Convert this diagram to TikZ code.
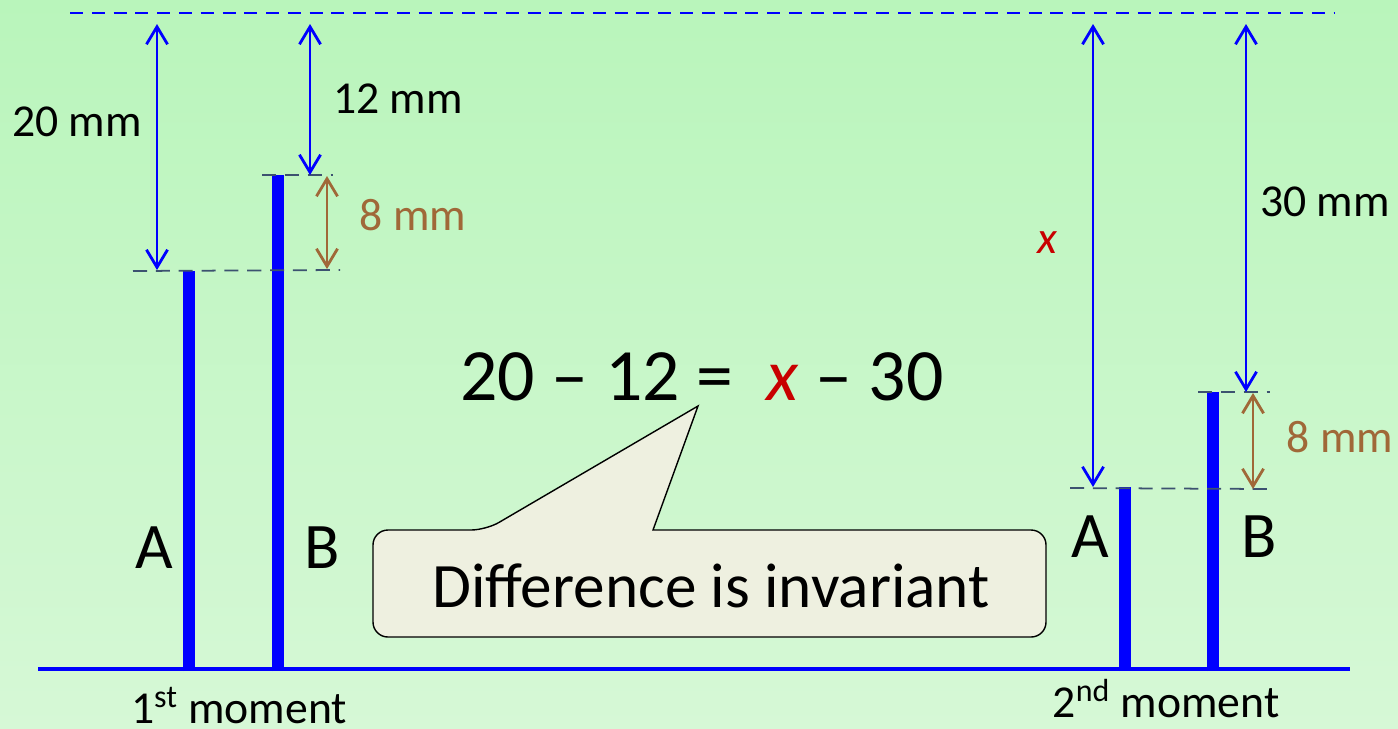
\documentclass[tikz,border=0pt]{standalone}
\usepackage{fontspec}
\setmainfont{Carlito}
\usetikzlibrary{arrows.meta,positioning}

\definecolor{bgtop}{RGB}{185,245,187}
\definecolor{bgbottom}{RGB}{214,248,214}
\definecolor{gapbrown}{RGB}{160,104,56}
\definecolor{guidegray}{RGB}{60,82,112}
\definecolor{xred}{RGB}{200,0,0}
\definecolor{callfill}{RGB}{238,240,224}

\tikzset{
	topline/.style={draw=blue,line width=1.1pt,dash pattern=on 7.4pt off 5pt},
	groundline/.style={draw=blue,line width=1.8pt},
	bar/.style={draw=blue,line width=6.8pt},
	guide/.style={draw=guidegray,line width=1pt,dash pattern=on 8pt off 5pt},
	dimarrow/.style={draw=blue,line width=1.6pt,
		{Straight Barb[length=10pt,width=12pt]}-{Straight Barb[length=10pt,width=12pt]}},
	gaparrow/.style={dimarrow,draw=gapbrown},
	lbl/.style={inner sep=0pt,font=\fontsize{26}{30}\selectfont},
	barname/.style={inner sep=0pt,font=\fontsize{37}{42}\selectfont},
	callbox/.style={draw=black,line width=0.8pt,fill=callfill}
}

\begin{document}
\begin{tikzpicture}[x=0.02cm,y=-0.02cm]
	% background
	\shade[top color=bgtop,bottom color=bgbottom] (0,0) rectangle (1398,728);
	\useasboundingbox (0,0) rectangle (1398,728);

	% top level and ground
	\coordinate (top1) at (70,13);
	\coordinate (top2) at (1335,13);
	\draw[topline] (top1) -- (top2);
	\coordinate (ground1) at (38,669);
	\coordinate (ground2) at (1350,669);
	\draw[groundline] (ground1) -- (ground2);

	% bars, 1st moment
	\coordinate (a1) at (189,671);
	\coordinate (a1top) at (189,271);
	\coordinate (b1) at (278,671);
	\coordinate (b1top) at (278,175);
	\draw[bar] (a1) -- (a1top);
	\draw[bar] (b1) -- (b1top);

	% bars, 2nd moment
	\coordinate (a2) at (1125,671);
	\coordinate (a2top) at (1125,487);
	\coordinate (b2) at (1213,671);
	\coordinate (b2top) at (1213,392);
	\draw[bar] (a2) -- (a2top);
	\draw[bar] (b2) -- (b2top);

	% guides
	\coordinate (g1l) at (133,271);
	\coordinate (g1r) at (340,270);
	\coordinate (g2l) at (262,175);
	\coordinate (g2r) at (333,175);
	\coordinate (g3l) at (1070,488);
	\coordinate (g3r) at (1268,489);
	\coordinate (g4l) at (1198,392);
	\coordinate (g4r) at (1270,392);
	\draw[guide] (g1l) -- (g1r);
	\draw[guide] (g2l) -- (g2r);
	\draw[guide] (g3l) -- (g3r);
	\draw[guide] (g4l) -- (g4r);

	% distances
	\coordinate (d1t) at (157,24);
	\coordinate (d1b) at (157,270);
	\coordinate (d2t) at (310,24);
	\coordinate (d2b) at (310,175);
	\coordinate (d3t) at (327,176);
	\coordinate (d3b) at (327,269);
	\coordinate (d4t) at (1093,24);
	\coordinate (d4b) at (1093,487);
	\coordinate (d5t) at (1246,24);
	\coordinate (d5b) at (1246,392);
	\coordinate (d6t) at (1253,393);
	\coordinate (d6b) at (1253,489);
	\draw[dimarrow] (d1t) -- (d1b);
	\draw[dimarrow] (d2t) -- (d2b);
	\draw[gaparrow] (d3t) -- (d3b);
	\draw[dimarrow] (d4t) -- (d4b);
	\draw[dimarrow] (d5t) -- (d5b);
	\draw[gaparrow] (d6t) -- (d6b);

	\node[lbl] (l20) at (77,122) {20 mm};
	\node[lbl] (l12) at (398,99) {12 mm};
	\node[lbl,text=gapbrown] (l8a) at (413,215) {8 mm};
	\node[lbl,text=xred,font=\fontsize{26}{30}\selectfont\itshape] (lx) at (1047,243) {x};
	\node[lbl] (l30) at (1325,202) {30 mm};
	\node[lbl,text=gapbrown] (l8b) at (1340,437) {8 mm};

	% bar names
	\node[barname] (nA1) at (154,548) {A};
	\node[barname] (nB1) at (322,548) {B};
	\node[barname] (nA2) at (1090,537) {A};
	\node[barname] (nB2) at (1259,537) {B};

	\node[lbl,anchor=base] (m1) at (239,723) {1\textsuperscript{st} moment};
	\node[lbl,anchor=base] (m2) at (1166,717) {2\textsuperscript{nd} moment};

	% equation and callout
	\node[inner sep=0pt,font=\fontsize{42}{50}\selectfont] (eq) at (702,377)
		{20 -- 12 =\ \ {\color{xred}\itshape x} -- 30};
	\coordinate (tip) at (698,406);
	\draw[callbox] (373,584) [rounded corners=8.5pt] -- (373,530) -- (486,530)
		[sharp corners] -- (tip) -- (653,530)
		[rounded corners=8.5pt] -- (1046,530) -- (1046,637) -- (373,637) -- cycle;
	\node[inner sep=0pt,font=\fontsize{36}{42}\selectfont] (diff) at (711,586) {Difference is invariant};
\end{tikzpicture}
\end{document}
